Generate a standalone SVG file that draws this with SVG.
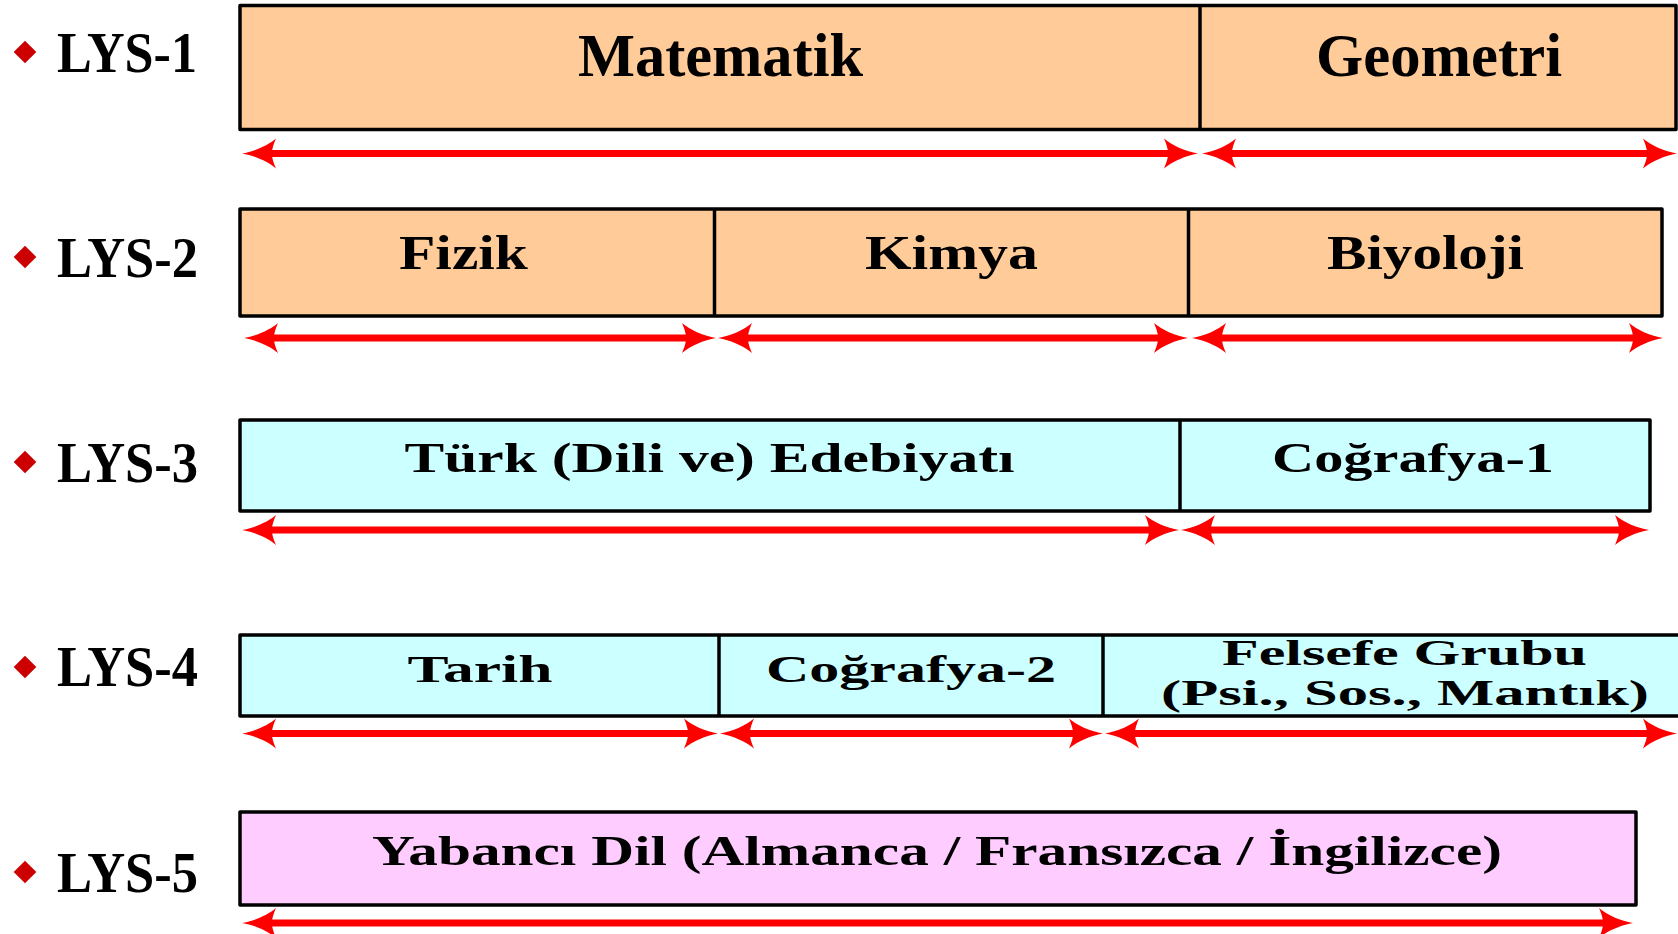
<svg xmlns="http://www.w3.org/2000/svg" xmlns:xlink="http://www.w3.org/1999/xlink" width="1678" height="934" viewBox="0 0 1678 934">
<style>
.box{stroke:#000;stroke-width:3.5;stroke-linejoin:round}
.peach{fill:#FFCC99}.cyan{fill:#CCFFFF}.pink{fill:#FFCCFF}
.div{stroke:#000;stroke-width:3.5}
.t{font-family:"Liberation Serif","Times New Roman",serif;font-weight:bold;fill:#000}
.lbl{font-size:58px}
.sh{stroke:#FF0000;stroke-width:7;fill:none}
.bul{fill:#CC0000}
</style>
<defs>
<path id="ah" d="M0,0 C12,-2 26,-8 34,-15 C31,-8 30,-4 30,0 C30,4 31,8 34,15 C26,8 12,2 0,0 Z" fill="#FF0000"/>
<rect id="dm" x="-8" y="-8" width="16" height="16" transform="rotate(45)" class="bul"/>
</defs>
<rect width="1678" height="934" fill="#fff"/>

<g id="label-lys1"><use href="#dm" transform="translate(25,52)"/><text class="t lbl" x="57" y="72" textLength="140" lengthAdjust="spacingAndGlyphs">LYS-1</text></g>
<g id="label-lys2"><use href="#dm" transform="translate(25,257)"/><text class="t lbl" x="57" y="277" textLength="141" lengthAdjust="spacingAndGlyphs">LYS-2</text></g>
<g id="label-lys3"><use href="#dm" transform="translate(25,462)"/><text class="t lbl" x="57" y="482" textLength="141" lengthAdjust="spacingAndGlyphs">LYS-3</text></g>
<g id="label-lys4"><use href="#dm" transform="translate(25,667)"/><text class="t lbl" x="57" y="686" textLength="141" lengthAdjust="spacingAndGlyphs">LYS-4</text></g>
<g id="label-lys5"><use href="#dm" transform="translate(25,872)"/><text class="t lbl" x="57" y="892" textLength="141" lengthAdjust="spacingAndGlyphs">LYS-5</text></g>

<g id="row1">
<rect class="box peach" x="240" y="5.5" width="1436" height="124"/>
<line class="div" x1="1200" y1="5.5" x2="1200" y2="129.5"/>
<g id="matematik"><text class="t" font-size="62" x="578" y="76" textLength="285" lengthAdjust="spacingAndGlyphs">Matematik</text></g>
<g id="geometri"><text class="t" font-size="62" x="1316" y="76" textLength="246" lengthAdjust="spacingAndGlyphs">Geometri</text></g>
</g>

<g id="row2">
<rect class="box peach" x="240" y="209" width="1422" height="107"/>
<line class="div" x1="714.5" y1="209" x2="714.5" y2="316"/>
<line class="div" x1="1188.5" y1="209" x2="1188.5" y2="316"/>
<g id="fizik"><text class="t" font-size="49" x="399" y="269" textLength="129" lengthAdjust="spacingAndGlyphs">Fizik</text></g>
<g id="kimya"><text class="t" font-size="49" x="865" y="269" textLength="173" lengthAdjust="spacingAndGlyphs">Kimya</text></g>
<g id="biyoloji"><text class="t" font-size="49" x="1327" y="269" textLength="197" lengthAdjust="spacingAndGlyphs">Biyoloji</text></g>
</g>

<g id="row3">
<rect class="box cyan" x="240" y="420" width="1410" height="91"/>
<line class="div" x1="1180" y1="420" x2="1180" y2="511"/>
<g id="edebiyat"><text class="t" font-size="43" x="404.5" y="471.5" textLength="610" lengthAdjust="spacingAndGlyphs">Türk (Dili ve) Edebiyatı</text></g>
<g id="cografya1"><text class="t" font-size="43" x="1272" y="471.5" textLength="282" lengthAdjust="spacingAndGlyphs">Coğrafya-1</text></g>
</g>

<g id="row4">
<rect class="box cyan" x="240" y="635" width="1450" height="81"/>
<line class="div" x1="719" y1="635" x2="719" y2="716"/>
<line class="div" x1="1103" y1="635" x2="1103" y2="716"/>
<g id="tarih"><text class="t" font-size="38" x="407.5" y="682" textLength="145" lengthAdjust="spacingAndGlyphs">Tarih</text></g>
<g id="cografya2"><text class="t" font-size="38" x="766" y="682" textLength="290" lengthAdjust="spacingAndGlyphs">Coğrafya-2</text></g>
<g id="felsefe"><text class="t" font-size="35" x="1222" y="665" textLength="365" lengthAdjust="spacingAndGlyphs">Felsefe Grubu</text><text class="t" font-size="35" x="1161" y="705" textLength="488" lengthAdjust="spacingAndGlyphs">(Psi., Sos., Mantık)</text></g>
</g>

<g id="row5">
<rect class="box pink" x="240" y="812" width="1396" height="93"/>
<g id="yabanci"><text class="t" font-size="43" x="372" y="865" textLength="1130" lengthAdjust="spacingAndGlyphs">Yabancı Dil (Almanca / Fransızca / İngilizce)</text></g>
</g>

<g id="connectors">
<line class="sh" x1="270" y1="153.5" x2="1170" y2="153.5"/><use href="#ah" transform="translate(242,153.5)"/><use href="#ah" transform="translate(1198,153.5) scale(-1,1)"/>
<line class="sh" x1="1230" y1="153.5" x2="1649" y2="153.5"/><use href="#ah" transform="translate(1202,153.5)"/><use href="#ah" transform="translate(1677,153.5) scale(-1,1)"/>

<line class="sh" x1="272" y1="338" x2="688" y2="338"/><use href="#ah" transform="translate(244,338)"/><use href="#ah" transform="translate(716,338) scale(-1,1)"/>
<line class="sh" x1="746" y1="338" x2="1160" y2="338"/><use href="#ah" transform="translate(718,338)"/><use href="#ah" transform="translate(1188,338) scale(-1,1)"/>
<line class="sh" x1="1220" y1="338" x2="1635" y2="338"/><use href="#ah" transform="translate(1192,338)"/><use href="#ah" transform="translate(1663,338) scale(-1,1)"/>

<line class="sh" x1="270" y1="530" x2="1151" y2="530"/><use href="#ah" transform="translate(242,530)"/><use href="#ah" transform="translate(1179,530) scale(-1,1)"/>
<line class="sh" x1="1209" y1="530" x2="1621" y2="530"/><use href="#ah" transform="translate(1181,530)"/><use href="#ah" transform="translate(1649,530) scale(-1,1)"/>

<line class="sh" x1="270" y1="733.5" x2="690" y2="733.5"/><use href="#ah" transform="translate(242,733.5)"/><use href="#ah" transform="translate(718,733.5) scale(-1,1)"/>
<line class="sh" x1="748" y1="733.5" x2="1075" y2="733.5"/><use href="#ah" transform="translate(720,733.5)"/><use href="#ah" transform="translate(1103,733.5) scale(-1,1)"/>
<line class="sh" x1="1133" y1="733.5" x2="1649" y2="733.5"/><use href="#ah" transform="translate(1105,733.5)"/><use href="#ah" transform="translate(1677,733.5) scale(-1,1)"/>

<line class="sh" x1="270" y1="923" x2="1605" y2="923"/><use href="#ah" transform="translate(242,923)"/><use href="#ah" transform="translate(1633,923) scale(-1,1)"/>
</g>
</svg>
